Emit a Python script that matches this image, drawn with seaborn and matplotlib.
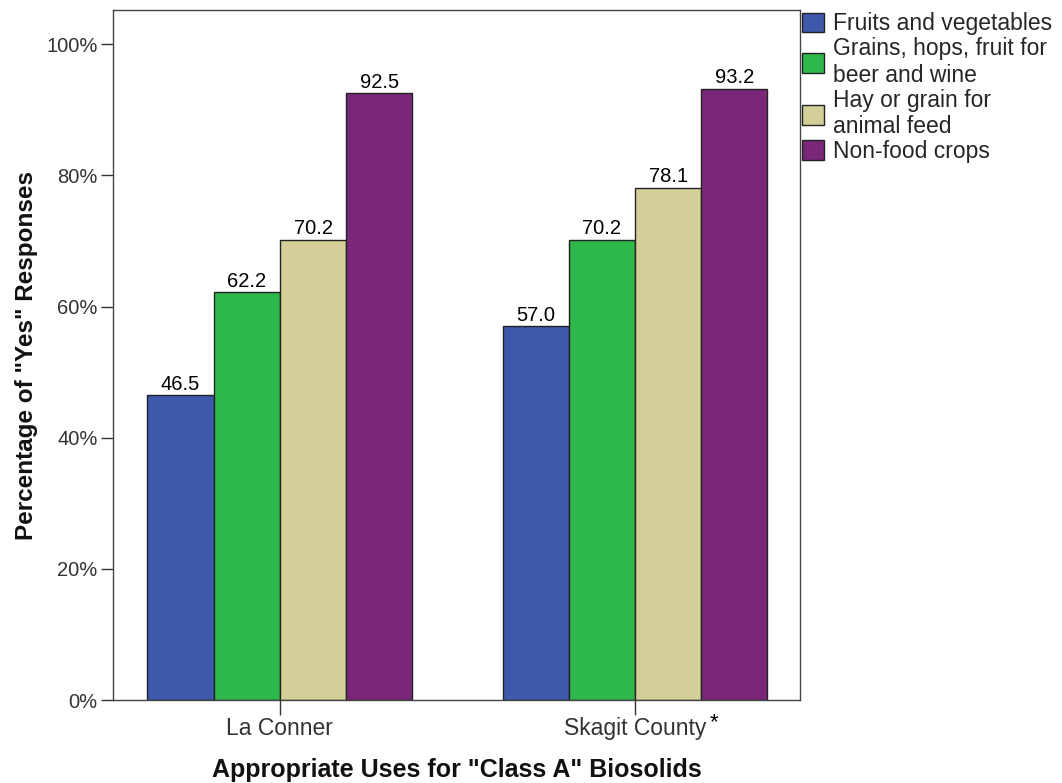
import matplotlib
matplotlib.use("Agg")
import matplotlib.pyplot as plt
from matplotlib.ticker import PercentFormatter
import seaborn as sns
import pandas as pd

# Survey results: share of "yes" answers per use and location
locations = ["La Conner", "Skagit County"]
uses = [
    "Fruits and vegetables",
    "Grains, hops, fruit for\nbeer and wine",
    "Hay or grain for\nanimal feed",
    "Non-food crops",
]
la_conner = [46.5, 62.2, 70.2, 92.5]
skagit = [57.0, 70.2, 78.1, 93.2]
colors = ["#3E58AC", "#2EB84B", "#D4CF99", "#7B2779"]

rows = []
for loc, vals in zip(locations, [la_conner, skagit]):
    for use, v in zip(uses, vals):
        rows.append({"Location": loc, "Use": use, "Pct": v})
df = pd.DataFrame(rows)

sns.set_theme(style="white")
plt.rcParams["font.family"] = ["Liberation Sans", "DejaVu Sans"]

fig = plt.figure(figsize=(10.62, 7.83), dpi=100)
ax = fig.add_axes([0.1064, 0.106, 0.647, 0.881])

sns.barplot(data=df, x="Location", y="Pct", hue="Use", hue_order=uses,
            order=locations, palette=colors, width=0.746, saturation=1,
            edgecolor="#222222", linewidth=1.0, ax=ax, legend=True)

for cont in ax.containers:
    ax.bar_label(cont, fmt="%.1f", padding=1, fontsize=14.5, color="black")

ax.set_xlim(-0.47, 1.465)
ax.set_ylim(0, 105.2)
ax.set_yticks([0, 20, 40, 60, 80, 100])
ax.yaxis.set_major_formatter(PercentFormatter(decimals=0))
ax.set_xticks([0, 1])
ax.set_xticklabels(locations)

ax.tick_params(axis="both", which="major", direction="out", length=9,
               width=1, color="#333333", labelcolor="#333333",
               left=True, bottom=True, pad=2)
ax.tick_params(axis="y", labelsize=14.5)
ax.tick_params(axis="x", length=11, labelsize=16.5, pad=1)

# footnote marker after the Skagit County label
ax.annotate("*", xy=(1, 0), xycoords=ax.get_xaxis_transform(),
            xytext=(54, -9), textcoords="offset points", fontsize=16,
            color="black", ha="left", va="top", annotation_clip=False)

for s in ax.spines.values():
    s.set_color("#444444")
    s.set_linewidth(1.0)

ax.set_ylabel('Percentage of "Yes" Responses', fontsize=17.5, fontweight="bold",
              labelpad=6, color="#111111")
ax.set_xlabel('Appropriate Uses for "Class A" Biosolids', fontsize=18,
              fontweight="bold", labelpad=13, color="#111111")

leg = ax.legend(loc="upper left", bbox_to_anchor=(1.0, 1.0), frameon=False,
                fontsize=16.5, handlelength=0.95, handleheight=0.95,
                handletextpad=0.4, labelspacing=0.08, borderaxespad=0.05,
                borderpad=0.05, title=None)
for h in leg.legend_handles:
    h.set_edgecolor("#222222")
    h.set_linewidth(1.0)

fig.savefig("out.png", dpi=100)
